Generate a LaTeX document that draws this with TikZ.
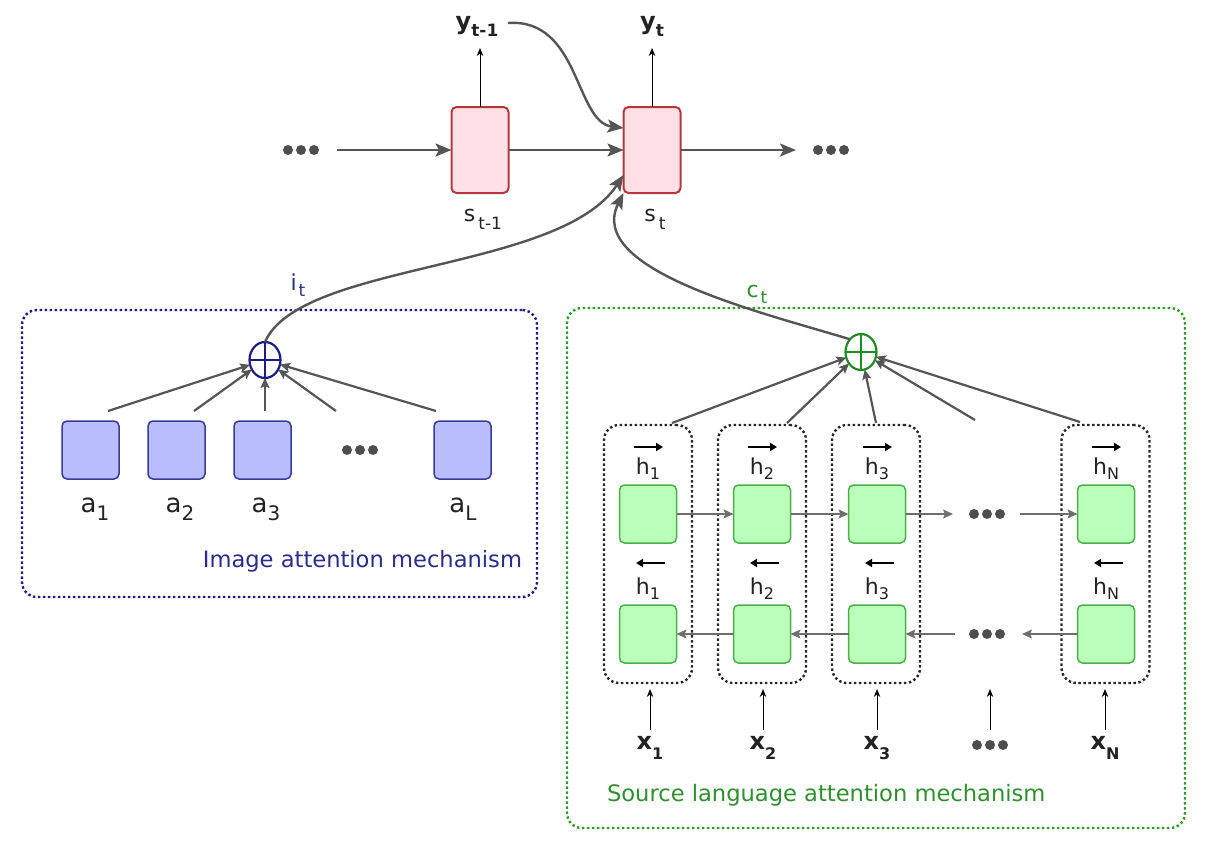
\documentclass[tikz,border=0pt]{standalone}
\usepackage{fontspec}
\setmainfont{DejaVu Sans}
\usetikzlibrary{arrows.meta,shapes.geometric}
\definecolor{pinkfill}{HTML}{FFE0E6}
\definecolor{pinkdraw}{HTML}{B5373C}
\definecolor{bluefill}{HTML}{B8BDFC}
\definecolor{bluedraw}{HTML}{3A3A9A}
\definecolor{greenfill}{HTML}{BAFFBA}
\definecolor{greendraw}{HTML}{4CAF4C}
\definecolor{navy}{HTML}{1C1C88}
\definecolor{navytext}{HTML}{2B2B8C}
\definecolor{grn}{HTML}{2E9A2E}
\definecolor{grntext}{HTML}{2D8F2D}
\definecolor{grncirc}{HTML}{1F8C1F}
\definecolor{arrgray}{HTML}{555555}
\definecolor{dotgray}{HTML}{4D4D4D}
\definecolor{txt}{HTML}{222222}
\newcommand\lowsub[3]{\raisebox{-#1}{\fontsize{#2}{#2}\selectfont #3}}
\begin{document}
\begin{tikzpicture}[x=1pt,y=-1pt,
  every node/.style={inner sep=0pt,outer sep=0pt,text=txt},
  pinkbox/.style={draw=pinkdraw,fill=pinkfill,line width=2pt,rounded corners=5pt,minimum width=57pt,minimum height=86pt},
  bluebox/.style={draw=bluedraw,fill=bluefill,line width=1.5pt,rounded corners=5pt,minimum width=57pt,minimum height=58pt},
  greenbox/.style={draw=greendraw,fill=greenfill,line width=1.5pt,rounded corners=5pt,minimum width=57pt,minimum height=58pt},
  colbox/.style={draw=black!85,line width=2.4pt,dash pattern=on 2.4pt off 2.6pt,rounded corners=15pt,minimum width=88pt,minimum height=258pt},
  frame/.style={draw=#1,line width=2.4pt,dash pattern=on 2.4pt off 2.6pt,rounded corners=15pt},
  thickarr/.style={draw=arrgray,line width=2.4pt,-{Stealth[length=16pt,width=13pt,inset=3.5pt]}},
  sumarr/.style={draw=arrgray,line width=2.2pt,-{Stealth[length=10pt,width=9pt,inset=2pt]}},
  thinarr/.style={draw=black,line width=1pt,-{Stealth[length=8pt,width=6.5pt]}},
  harr/.style={draw=arrgray!85,line width=1.3pt,-{Stealth[length=10pt,width=9pt,inset=2pt]}},
  overarr/.style={draw=black,line width=2.4pt,-{Triangle[length=7pt,width=8pt]}},
  sumnode/.style={ellipse,draw=#1,line width=2.2pt,minimum width=31pt,minimum height=36pt,
    path picture={\draw[#1,line width=2pt] (path picture bounding box.north) -- (path picture bounding box.south)
      (path picture bounding box.west) -- (path picture bounding box.east);}},
  lbl/.style={anchor=base,font=\fontsize{22}{26}\selectfont},
  alb/.style={anchor=base,font=\fontsize{26}{30}\selectfont},
  blb/.style={anchor=base,font=\fontsize{24}{28}\selectfont\bfseries},
  threedots/.pic={\fill[dotgray] (-13pt,0) circle (5pt) (0,0) circle (5pt) (13pt,0) circle (5pt);}
]
\useasboundingbox (0,0) rectangle (1207,851);

% ---------- frames ----------
\node[frame=navy,minimum width=515pt,minimum height=287pt] (imgframe) at (279.5,453.5) {};
\node[frame=grn,minimum width=618pt,minimum height=520pt] (srcframe) at (876,568) {};

% ---------- decoder ----------
\node[pinkbox] (st1) at (480,150) {};
\node[pinkbox] (st) at (652,150) {};
\coordinate (dTL) at (301,150);
\coordinate (dTR) at (831,150);
\pic at (dTL) {threedots};
\pic at (dTR) {threedots};
\coordinate (inL) at (337,150);
\coordinate (outR) at (796,150);
\draw[thickarr] (inL) -- (st1.west);
\draw[thickarr] (st1.east) -- (st.west);
\draw[thickarr] (st.east) -- (outR);

\node[blb] (yt1) at (477,30) {y\lowsub{7pt}{17}{t-1}};
\node[blb] (yt) at (652,30) {y\lowsub{7pt}{17}{t}};
\coordinate (yt1in) at (480,48);
\coordinate (ytin) at (652,48);
\draw[thinarr] (st1.north) -- (yt1in);
\draw[thinarr] (st.north) -- (ytin);
\node[lbl] (s1lab) at (483,221) {s\kern3pt\lowsub{8pt}{17}{t-1}};
\node[lbl] (slab) at (655,221) {s\kern3pt\lowsub{8pt}{17}{t}};

\coordinate (ystart) at (508,23);
\draw[thickarr] (ystart) .. controls (580,18) and (575,122) .. ([yshift=22pt]st.west);

% ---------- image attention ----------
\node[bluebox] (a1) at (90.5,450) {};
\node[bluebox] (a2) at (176.5,450) {};
\node[bluebox] (a3) at (262.5,450) {};
\node[bluebox] (aL) at (462.5,450) {};
\coordinate (dA) at (360,450);
\pic at (dA) {threedots};
\node[alb] (a1lab) at (95,512) {a\lowsub{8pt}{20}{1}};
\node[alb] (a2lab) at (180,512) {a\lowsub{8pt}{20}{2}};
\node[alb] (a3lab) at (266,512) {a\lowsub{8pt}{20}{3}};
\node[alb] (aLlab) at (463,512) {a\lowsub{8pt}{20}{L}};

\node[sumnode=navy] (ci) at (265,360) {};
\coordinate (pa1) at (108,411);
\coordinate (pa2) at (194,411);
\coordinate (pa3) at (265,411);
\coordinate (pa4) at (336,411);
\coordinate (pa5) at (436,411);
\foreach \p in {pa1,pa2,pa3,pa4,pa5} \draw[sumarr] (\p) -- (ci);

\node[anchor=base east,font=\fontsize{22.6}{26}\selectfont,text=navytext] (imgtxt) at (522,567) {Image attention mechanism};
\node[lbl,text=navytext] (itlab) at (298,290) {i\kern2pt\lowsub{6pt}{17}{t}};
\draw[thickarr] (ci.north) .. controls (300,262) and (560,272) .. ([yshift=-25pt]st.west);

% ---------- source attention ----------
\foreach \n/\x in {1/648,2/762,3/876,N/1105.5} {
  \node[colbox] (col\n) at (\x,554) {};
}
\foreach \n/\x in {1/648,2/762,3/877,N/1106} {
  \node[greenbox] (hf\n) at (\x,514) {};
  \node[greenbox] (hb\n) at (\x,634) {};
  \node[lbl] (hfl\n) at (\x,474) {h\lowsub{5pt}{16}{\n}};
  \node[lbl] (hbl\n) at (\x,594) {h\lowsub{5pt}{16}{\n}};
  \draw[overarr] ([xshift=-14pt,yshift=67pt]hf\n.center) -- ([xshift=15pt,yshift=67pt]hf\n.center);
  \draw[overarr] ([xshift=17pt,yshift=71pt]hb\n.center) -- ([xshift=-12pt,yshift=71pt]hb\n.center);
}
\coordinate (dF) at (987,514);
\coordinate (dB) at (987,634);
\pic at (dF) {threedots};
\pic at (dB) {threedots};
\coordinate (fA) at (953,514);
\coordinate (fB) at (1020,514);
\coordinate (bA) at (955,634);
\coordinate (bB) at (1022,634);
\draw[harr] (hf1.east) -- (hf2.west);
\draw[harr] (hf2.east) -- (hf3.west);
\draw[harr] (hf3.east) -- (fA);
\draw[harr] (fB) -- (hfN.west);
\draw[harr] (hb2.west) -- (hb1.east);
\draw[harr] (hb3.west) -- (hb2.east);
\draw[harr] (bA) -- (hb3.east);
\draw[harr] (hbN.west) -- (bB);

\foreach \n/\x in {1/650,2/763,3/877,N/1105} {
  \node[blb] (x\n) at (\x,749) {x\lowsub{10pt}{16}{\n}};
  \coordinate (xs\n) at (\x,730);
  \coordinate (xe\n) at (\x,689);
  \draw[thinarr] (xs\n) -- (xe\n);
}
\coordinate (dX) at (990,745);
\pic at (dX) {threedots};
\coordinate (xsD) at (990,730);
\coordinate (xeD) at (990,689);
\draw[thinarr] (xsD) -- (xeD);

\node[sumnode=grncirc] (cs) at (861,352) {};
\coordinate (pc1) at (672,423);
\coordinate (pc2) at (787,423);
\coordinate (pc3) at (876,423);
\coordinate (pc4) at (975,420);
\coordinate (pc5) at (1080,422);
\foreach \p in {pc1,pc2,pc3,pc4,pc5} \draw[sumarr] (\p) -- (cs);

\node[anchor=base west,font=\fontsize{22.6}{26}\selectfont,text=grntext] (srctxt) at (607,801) {Source language attention mechanism};
\node[lbl,text=grntext] (ctlab) at (757,297) {c\kern2pt\lowsub{6pt}{17}{t}};
\draw[thickarr] (cs.north west) .. controls (760,312) and (585,270) .. (st.south west);
\end{tikzpicture}
\end{document}
